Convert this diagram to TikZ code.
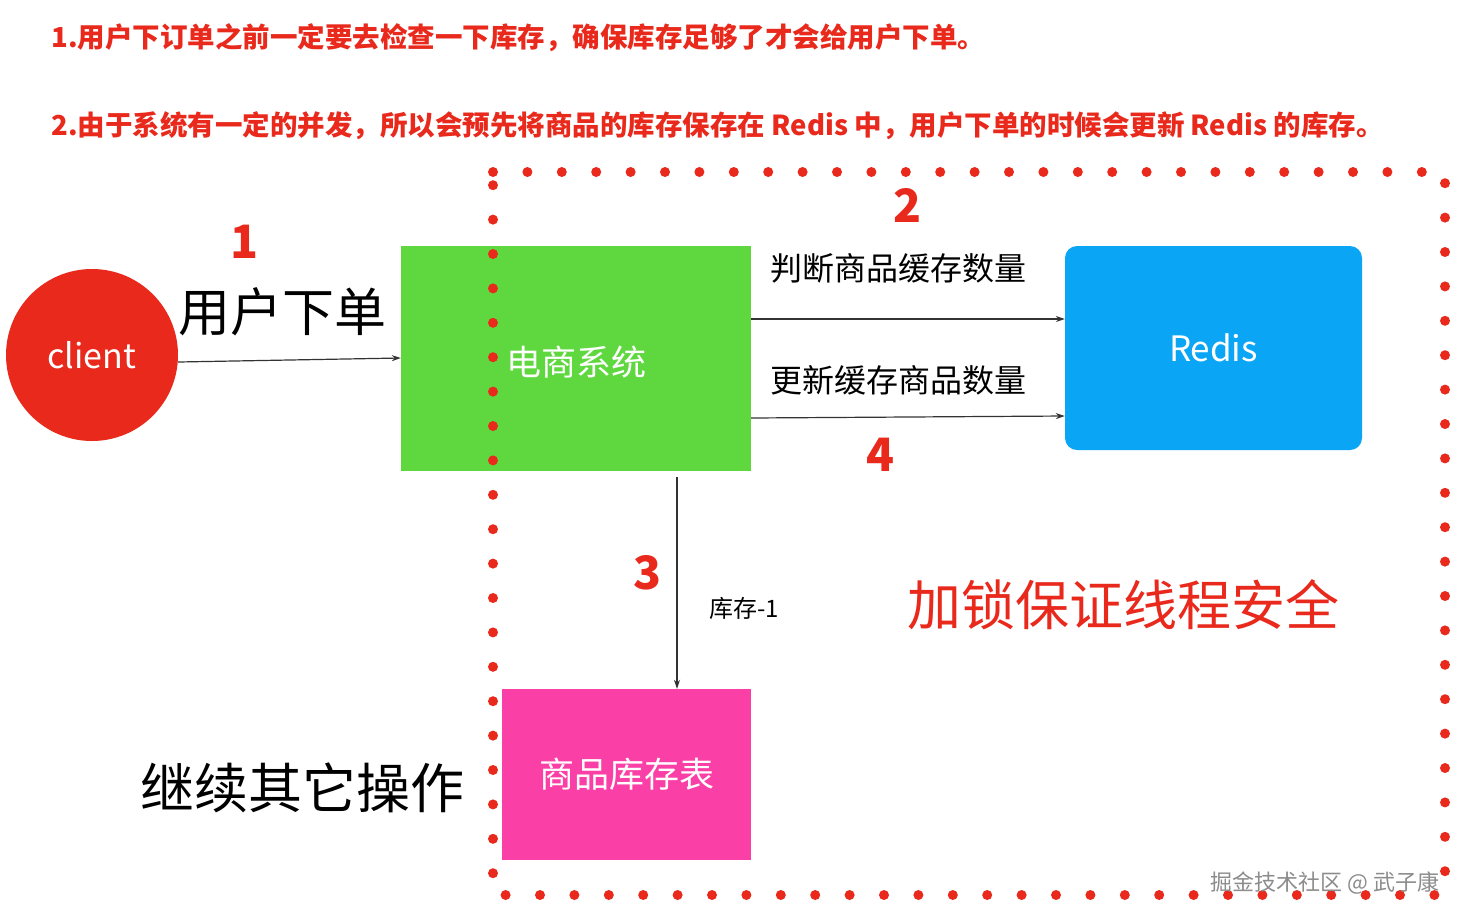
\documentclass[tikz,border=0pt]{standalone}
\usepackage{fontspec}
\setmainfont{Noto Sans CJK SC}
\usetikzlibrary{arrows.meta}
\definecolor{tred}{HTML}{E8291C}
\definecolor{tgreen}{HTML}{5FD83F}
\definecolor{tblue}{HTML}{0AA5F5}
\definecolor{tpink}{HTML}{FA3FA6}
\tikzset{
  fs/.style={font=\fontsize{#1}{#1}\selectfont},
  num/.style={text=tred,font=\fontsize{46}{46}\selectfont\bfseries},
  conn/.style={-{Stealth[length=9pt,width=6pt]},line width=1.2pt,draw=black!80},
  boxw/.style={text=white,font=\fontsize{35}{35}\selectfont},
}
\begin{document}
\begin{tikzpicture}[x=1pt,y=-1pt]
\useasboundingbox[fill=white] (0,0) rectangle (1480,922);
\node[anchor=west,text=tred,fs=27.5] (t1) at (48,38) {\bfseries 1.用户下订单之前一定要去检查一下库存，确保库存足够了才会给用户下单。};
\node[anchor=west,text=tred,fs=27.5] (t2) at (48,126) {\bfseries 2.由于系统有一定的并发，所以会预先将商品的库存保存在 Redis 中，用户下单的时候会更新 Redis 的库存。};
\node[circle,fill=tred,minimum size=172pt,text=white,fs=34] (client) at (92,355) {client};
\node[num] (n1) at (245,242) {1};
\node[fs=52] (ud) at (282,312) {用户下单};
\node[fill=tgreen,minimum width=350pt,minimum height=225pt,boxw] (ecom) at (576,358.5) {};
\node[fill=tblue,rounded corners=12pt,minimum width=297pt,minimum height=204pt,boxw] (redis) at (1213.5,348) {Redis};
\node[fill=tpink,minimum width=249pt,minimum height=171pt,boxw] (stock) at (626.5,774.5) {商品库存表};
\draw[tred,line width=10pt,line cap=round,dash pattern=on 0pt off 34.4pt] (493,172) -- (1445,172) -- (1445,895) -- (493,895) -- (493,172);
\node[boxw,text=white] (ecomt) at (576,362) {电商系统};
\draw[conn] (client.east |- 0,362) -- (ecom.west |- 0,358);
\node[num] (n2) at (907,205) {2};
\node[fs=32] (l2) at (898,268) {判断商品缓存数量};
\draw[conn] (ecom.east |- 0,319) -- (redis.west |- 0,319);
\node[fs=32] (l4) at (898,380) {更新缓存商品数量};
\draw[conn] (ecom.east |- 0,418) -- (redis.west |- 0,416);
\node[num] (n4) at (880,455) {4};
\draw[conn] (677,477) -- (stock.north -| 677,0);
\node[num] (n3) at (647,573) {3};
\node[fs=24] (l3) at (744,608) {库存-1};
\node[text=tred,fs=54] (lock) at (1123,605) {加锁保证线程安全};
\node[fs=54] (cont) at (302,788) {继续其它操作};
\node[text=black!45,fs=22] (wm) at (1325,883) {掘金技术社区 @ 武子康};
\end{tikzpicture}
\end{document}
